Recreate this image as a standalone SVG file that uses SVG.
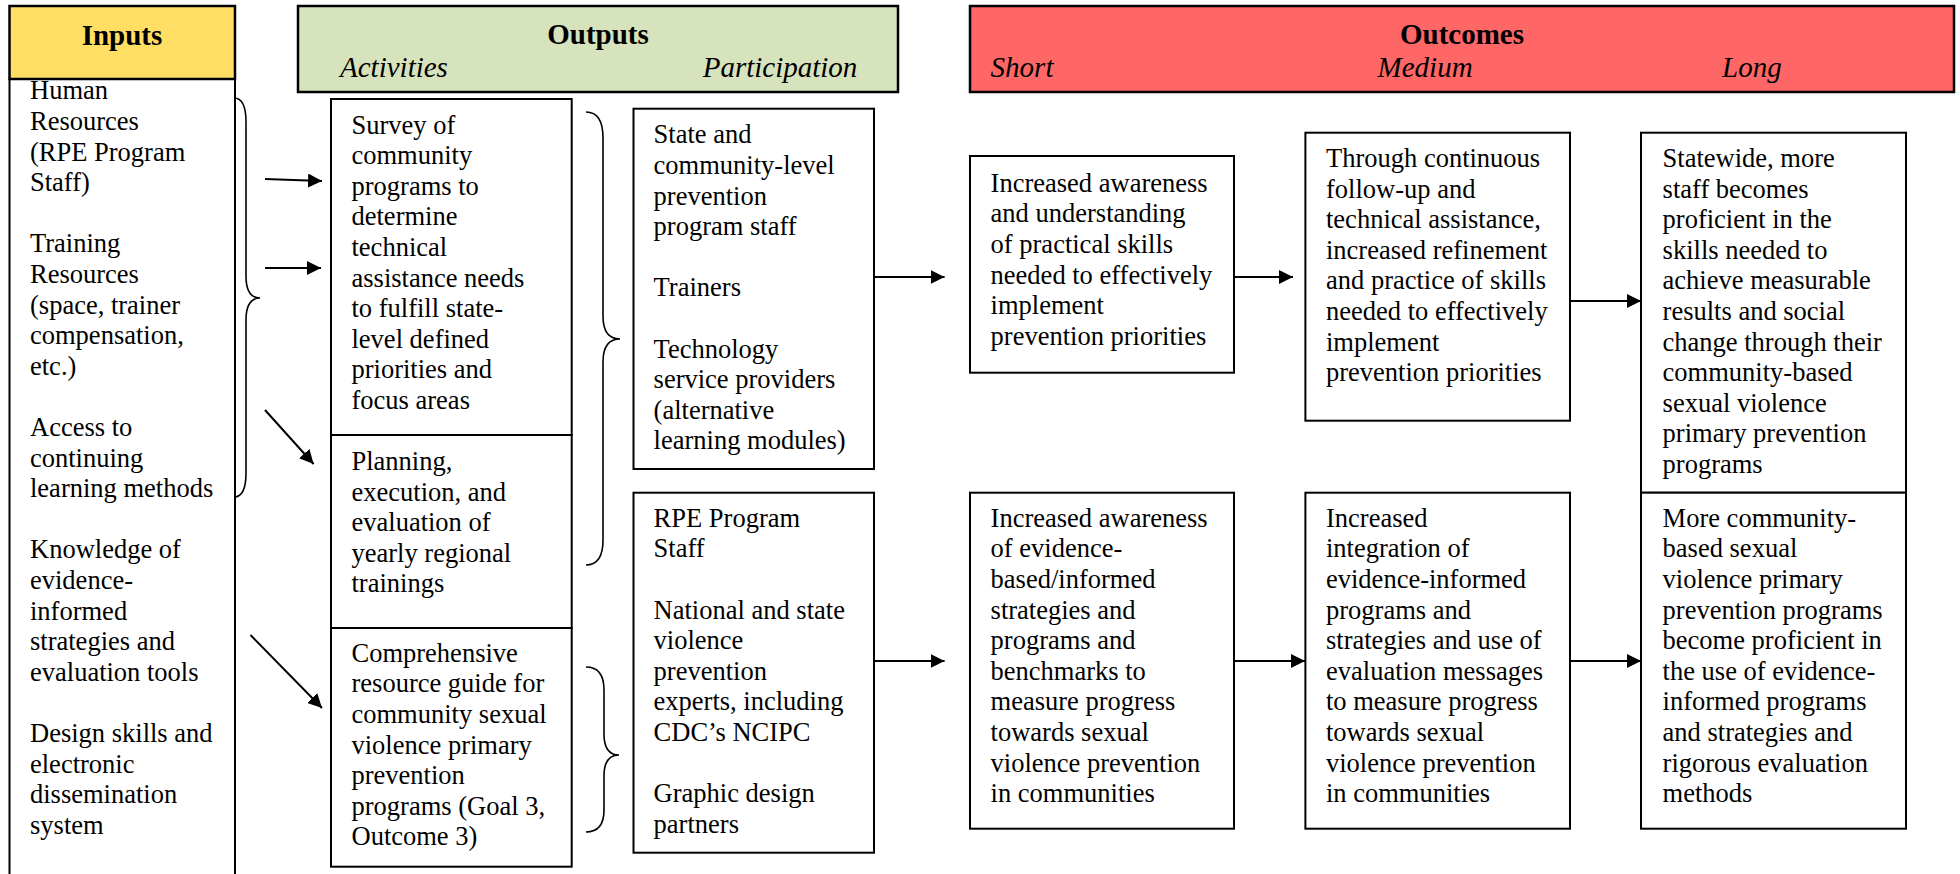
<svg xmlns="http://www.w3.org/2000/svg" width="1960" height="874" viewBox="0 0 1960 874">
  <style>
    .box { fill: #ffffff; stroke: #000000; stroke-width: 2; }
    .hdr { stroke: #000000; stroke-width: 2.5; }
    .t { font-family: "Liberation Serif", "Times New Roman", serif; font-size: 26.5px; fill: #000000; }
    .h { font-family: "Liberation Serif", "Times New Roman", serif; font-size: 29px; font-weight: bold; text-anchor: middle; fill: #000000; }
    .sub { font-family: "Liberation Serif", "Times New Roman", serif; font-size: 29px; font-style: italic; fill: #000000; }
    .conn { stroke: #000000; stroke-width: 2; fill: none; }
    .brace { stroke: #000000; stroke-width: 1.6; fill: none; }
  </style>
  <defs>
    <marker id="arrow" markerUnits="userSpaceOnUse" markerWidth="14" markerHeight="14" refX="14" refY="7" orient="auto">
      <path d="M0,0 L14,7 L0,14 Z" fill="#000000"/>
    </marker>
  </defs>

  <rect width="1960" height="874" fill="#ffffff"/>

  <!-- Column headers -->
  <g id="header-inputs">
    <rect class="hdr" x="9.5" y="6" width="225.5" height="73" fill="#FFDF63"/>
    <text class="h" x="122" y="45">Inputs</text>
  </g>
  <g id="header-outputs">
    <rect class="hdr" x="298" y="6" width="600" height="86" fill="#D7E3BC"/>
    <text class="h" x="598" y="44">Outputs</text>
    <text class="sub" x="340" y="77">Activities</text>
    <text class="sub" x="702.7" y="77">Participation</text>
  </g>
  <g id="header-outcomes">
    <rect class="hdr" x="970" y="6" width="984" height="86" fill="#FF6666"/>
    <text class="h" x="1462" y="44">Outcomes</text>
    <text class="sub" x="990.6" y="77">Short</text>
    <text class="sub" x="1377.6" y="77">Medium</text>
    <text class="sub" x="1722" y="77">Long</text>
  </g>

  <!-- Inputs column (open at the bottom) -->
  <g id="inputs">
    <path class="conn" d="M9.5,79 L9.5,880 M235,79 L235,880"/>
    <text class="t">
      <tspan x="30" y="99.3">Human</tspan>
      <tspan x="30" y="129.9">Resources</tspan>
      <tspan x="30" y="160.5">(RPE Program</tspan>
      <tspan x="30" y="191.1">Staff)</tspan>
      <tspan x="30" y="252.3">Training</tspan>
      <tspan x="30" y="282.9">Resources</tspan>
      <tspan x="30" y="313.5">(space, trainer</tspan>
      <tspan x="30" y="344.1">compensation,</tspan>
      <tspan x="30" y="374.7">etc.)</tspan>
      <tspan x="30" y="435.9">Access to</tspan>
      <tspan x="30" y="466.5">continuing</tspan>
      <tspan x="30" y="497.1">learning methods</tspan>
      <tspan x="30" y="558.3">Knowledge of</tspan>
      <tspan x="30" y="588.9">evidence-</tspan>
      <tspan x="30" y="619.5">informed</tspan>
      <tspan x="30" y="650.1">strategies and</tspan>
      <tspan x="30" y="680.7">evaluation tools</tspan>
      <tspan x="30" y="741.9">Design skills and</tspan>
      <tspan x="30" y="772.5">electronic</tspan>
      <tspan x="30" y="803.1">dissemination</tspan>
      <tspan x="30" y="833.7">system</tspan>
    </text>
  </g>

  <!-- Activities -->
  <g id="activity-survey">
    <rect class="box" x="331" y="99" width="240.7" height="336"/>
    <text class="t">
      <tspan x="351.5" y="133.5">Survey of</tspan>
      <tspan x="351.5" y="164.1">community</tspan>
      <tspan x="351.5" y="194.7">programs to</tspan>
      <tspan x="351.5" y="225.3">determine</tspan>
      <tspan x="351.5" y="255.9">technical</tspan>
      <tspan x="351.5" y="286.5">assistance needs</tspan>
      <tspan x="351.5" y="317.1">to fulfill state-</tspan>
      <tspan x="351.5" y="347.7">level defined</tspan>
      <tspan x="351.5" y="378.3">priorities and</tspan>
      <tspan x="351.5" y="408.9">focus areas</tspan>
    </text>
  </g>
  <g id="activity-trainings">
    <rect class="box" x="331" y="435" width="240.7" height="193"/>
    <text class="t">
      <tspan x="351.5" y="470">Planning,</tspan>
      <tspan x="351.5" y="500.6">execution, and</tspan>
      <tspan x="351.5" y="531.2">evaluation of</tspan>
      <tspan x="351.5" y="561.8">yearly regional</tspan>
      <tspan x="351.5" y="592.4">trainings</tspan>
    </text>
  </g>
  <g id="activity-guide">
    <rect class="box" x="331" y="628" width="240.7" height="238.7"/>
    <text class="t">
      <tspan x="351.5" y="661.7">Comprehensive</tspan>
      <tspan x="351.5" y="692.3">resource guide for</tspan>
      <tspan x="351.5" y="722.9">community sexual</tspan>
      <tspan x="351.5" y="753.5">violence primary</tspan>
      <tspan x="351.5" y="784.1">prevention</tspan>
      <tspan x="351.5" y="814.7">programs (Goal 3,</tspan>
      <tspan x="351.5" y="845.3">Outcome 3)</tspan>
    </text>
  </g>

  <!-- Participation -->
  <g id="participation-1">
    <rect class="box" x="633.5" y="108.7" width="240.5" height="360.3"/>
    <text class="t">
      <tspan x="653.6" y="143.3">State and</tspan>
      <tspan x="653.6" y="173.9">community-level</tspan>
      <tspan x="653.6" y="204.5">prevention</tspan>
      <tspan x="653.6" y="235.1">program staff</tspan>
      <tspan x="653.6" y="296.3">Trainers</tspan>
      <tspan x="653.6" y="357.5">Technology</tspan>
      <tspan x="653.6" y="388.1">service providers</tspan>
      <tspan x="653.6" y="418.7">(alternative</tspan>
      <tspan x="653.6" y="449.3">learning modules)</tspan>
    </text>
  </g>
  <g id="participation-2">
    <rect class="box" x="633.5" y="492.7" width="240.5" height="360"/>
    <text class="t">
      <tspan x="653.6" y="526.7">RPE Program</tspan>
      <tspan x="653.6" y="557.3">Staff</tspan>
      <tspan x="653.6" y="618.5">National and state</tspan>
      <tspan x="653.6" y="649.1">violence</tspan>
      <tspan x="653.6" y="679.7">prevention</tspan>
      <tspan x="653.6" y="710.3">experts, including</tspan>
      <tspan x="653.6" y="740.9">CDC’s NCIPC</tspan>
      <tspan x="653.6" y="802.1">Graphic design</tspan>
      <tspan x="653.6" y="832.7">partners</tspan>
    </text>
  </g>

  <!-- Short-term outcomes -->
  <g id="short-1">
    <rect class="box" x="970" y="156" width="264" height="216.7"/>
    <text class="t">
      <tspan x="990.6" y="191.7">Increased awareness</tspan>
      <tspan x="990.6" y="222.3">and understanding</tspan>
      <tspan x="990.6" y="252.9">of practical skills</tspan>
      <tspan x="990.6" y="283.5">needed to effectively</tspan>
      <tspan x="990.6" y="314.1">implement</tspan>
      <tspan x="990.6" y="344.7">prevention priorities</tspan>
    </text>
  </g>
  <g id="short-2">
    <rect class="box" x="970" y="492.7" width="264" height="336"/>
    <text class="t">
      <tspan x="990.6" y="526.7">Increased awareness</tspan>
      <tspan x="990.6" y="557.3">of evidence-</tspan>
      <tspan x="990.6" y="587.9">based/informed</tspan>
      <tspan x="990.6" y="618.5">strategies and</tspan>
      <tspan x="990.6" y="649.1">programs and</tspan>
      <tspan x="990.6" y="679.7">benchmarks to</tspan>
      <tspan x="990.6" y="710.3">measure progress</tspan>
      <tspan x="990.6" y="740.9">towards sexual</tspan>
      <tspan x="990.6" y="771.5">violence prevention</tspan>
      <tspan x="990.6" y="802.1">in communities</tspan>
    </text>
  </g>

  <!-- Medium-term outcomes -->
  <g id="medium-1">
    <rect class="box" x="1305.4" y="132.7" width="264.6" height="288"/>
    <text class="t">
      <tspan x="1326" y="167">Through continuous</tspan>
      <tspan x="1326" y="197.6">follow-up and</tspan>
      <tspan x="1326" y="228.2">technical assistance,</tspan>
      <tspan x="1326" y="258.8">increased refinement</tspan>
      <tspan x="1326" y="289.4">and practice of skills</tspan>
      <tspan x="1326" y="320">needed to effectively</tspan>
      <tspan x="1326" y="350.6">implement</tspan>
      <tspan x="1326" y="381.2">prevention priorities</tspan>
    </text>
  </g>
  <g id="medium-2">
    <rect class="box" x="1305.4" y="492.7" width="264.6" height="336"/>
    <text class="t">
      <tspan x="1326" y="526.7">Increased</tspan>
      <tspan x="1326" y="557.3">integration of</tspan>
      <tspan x="1326" y="587.9">evidence-informed</tspan>
      <tspan x="1326" y="618.5">programs and</tspan>
      <tspan x="1326" y="649.1">strategies and use of</tspan>
      <tspan x="1326" y="679.7">evaluation messages</tspan>
      <tspan x="1326" y="710.3">to measure progress</tspan>
      <tspan x="1326" y="740.9">towards sexual</tspan>
      <tspan x="1326" y="771.5">violence prevention</tspan>
      <tspan x="1326" y="802.1">in communities</tspan>
    </text>
  </g>

  <!-- Long-term outcomes -->
  <g id="long-1">
    <rect class="box" x="1641" y="132.7" width="265" height="360"/>
    <text class="t">
      <tspan x="1662.6" y="167">Statewide, more</tspan>
      <tspan x="1662.6" y="197.6">staff becomes</tspan>
      <tspan x="1662.6" y="228.2">proficient in the</tspan>
      <tspan x="1662.6" y="258.8">skills needed to</tspan>
      <tspan x="1662.6" y="289.4">achieve measurable</tspan>
      <tspan x="1662.6" y="320">results and social</tspan>
      <tspan x="1662.6" y="350.6">change through their</tspan>
      <tspan x="1662.6" y="381.2">community-based</tspan>
      <tspan x="1662.6" y="411.8">sexual violence</tspan>
      <tspan x="1662.6" y="442.4">primary prevention</tspan>
      <tspan x="1662.6" y="473">programs</tspan>
    </text>
  </g>
  <g id="long-2">
    <rect class="box" x="1641" y="492.7" width="265" height="336"/>
    <text class="t">
      <tspan x="1662.6" y="526.7">More community-</tspan>
      <tspan x="1662.6" y="557.3">based sexual</tspan>
      <tspan x="1662.6" y="587.9">violence primary</tspan>
      <tspan x="1662.6" y="618.5">prevention programs</tspan>
      <tspan x="1662.6" y="649.1">become proficient in</tspan>
      <tspan x="1662.6" y="679.7">the use of evidence-</tspan>
      <tspan x="1662.6" y="710.3">informed programs</tspan>
      <tspan x="1662.6" y="740.9">and strategies and</tspan>
      <tspan x="1662.6" y="771.5">rigorous evaluation</tspan>
      <tspan x="1662.6" y="802.1">methods</tspan>
    </text>
  </g>

  <!-- Connectors: braces and arrows -->
  <g id="connectors">
    <path class="brace" d="M234,98 Q246,98 246,122 L246,276 Q246,298 260,298 Q246,298 246,320 L246,473 Q246,497 234,497"/>
    <path class="brace" d="M586,112 Q603,112 603,138 L603,316 Q603,339 620,339 Q603,339 603,362 L603,540 Q603,565 586,565"/>
    <path class="brace" d="M586,667 Q604,667 604,690 L604,734 Q604,755 619,755 Q604,755 604,776 L604,810 Q604,832 586,832"/>

    <line class="conn" x1="265" y1="179" x2="322" y2="181" marker-end="url(#arrow)"/>
    <line class="conn" x1="265" y1="268" x2="321" y2="268" marker-end="url(#arrow)"/>
    <line class="conn" x1="265" y1="410" x2="313.6" y2="464" marker-end="url(#arrow)"/>
    <line class="conn" x1="250.5" y1="635" x2="322" y2="708" marker-end="url(#arrow)"/>

    <line class="conn" x1="874" y1="277" x2="944.6" y2="277" marker-end="url(#arrow)"/>
    <line class="conn" x1="1234" y1="277" x2="1293" y2="277" marker-end="url(#arrow)"/>
    <line class="conn" x1="1570" y1="301" x2="1641" y2="301" marker-end="url(#arrow)"/>

    <line class="conn" x1="874" y1="661" x2="944.6" y2="661" marker-end="url(#arrow)"/>
    <line class="conn" x1="1234" y1="661" x2="1305" y2="661" marker-end="url(#arrow)"/>
    <line class="conn" x1="1570" y1="661" x2="1641" y2="661" marker-end="url(#arrow)"/>
  </g>
</svg>
